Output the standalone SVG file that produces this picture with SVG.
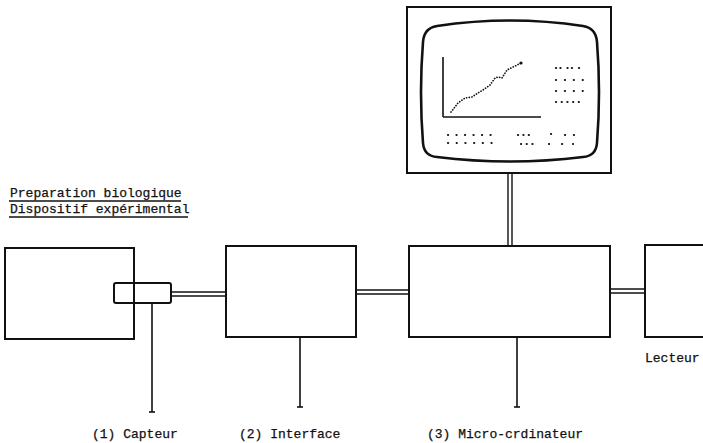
<svg xmlns="http://www.w3.org/2000/svg" width="703" height="443" viewBox="0 0 703 443">
<style>
.box{fill:none;stroke:#111;stroke-width:2}
.ln{fill:none;stroke:#111;stroke-width:1.6}
.dbl{fill:none;stroke:#111;stroke-width:1.4}
.t{font-family:"Liberation Mono","DejaVu Sans Mono",monospace;font-size:13px;fill:#111;stroke:#111;stroke-width:0.25}
.dots{fill:none;stroke:#111;stroke-width:2.2;stroke-dasharray:0.1 8.8;stroke-linecap:round}
</style>
<rect width="703" height="443" fill="#fff"/>
<g id="connectors">
  <line class="dbl" x1="171" y1="292" x2="226" y2="292"/>
  <line class="dbl" x1="171" y1="296" x2="226" y2="296"/>
  <line class="dbl" x1="356" y1="290" x2="409" y2="290"/>
  <line class="dbl" x1="356" y1="294" x2="409" y2="294"/>
  <line class="dbl" x1="610" y1="289" x2="645" y2="289"/>
  <line class="dbl" x1="610" y1="293" x2="645" y2="293"/>
  <line class="dbl" x1="508" y1="173" x2="508" y2="246"/>
  <line class="dbl" x1="512" y1="173" x2="512" y2="246"/>
  <line class="ln" x1="152" y1="303" x2="152" y2="412"/>
  <line class="ln" x1="149" y1="412" x2="155" y2="412"/>
  <line class="ln" x1="300" y1="337" x2="300" y2="407"/>
  <line class="ln" x1="297" y1="407" x2="303" y2="407"/>
  <line class="ln" x1="517" y1="337" x2="517" y2="407"/>
  <line class="ln" x1="514" y1="407" x2="520" y2="407"/>
</g>
<g id="preparation">
  <rect class="box" x="5" y="248" width="129" height="91"/>
  <text class="t" x="10" y="197">Preparation biologique</text>
  <line class="ln" x1="9" y1="201" x2="181" y2="201" stroke-width="1.2"/>
  <text class="t" x="10" y="213">Dispositif expérimental</text>
  <line class="ln" x1="9" y1="217" x2="188" y2="217" stroke-width="1.2"/>
</g>
<g id="capteur">
  <rect class="box" x="114" y="283" width="57" height="20" rx="2" fill="#fff"/>
  <text class="t" x="92" y="438">(1) Capteur</text>
</g>
<g id="interface">
  <rect class="box" x="226" y="246" width="130" height="91"/>
  <text class="t" x="239" y="438">(2) Interface</text>
</g>
<g id="micro">
  <rect class="box" x="409" y="246" width="201" height="91"/>
  <text class="t" x="427" y="438">(3) Micro-crdinateur</text>
</g>
<g id="lecteur">
  <path class="box" d="M705,245 H645 V337 H705"/>
  <text class="t" x="645" y="362">Lecteur</text>
</g>
<g id="moniteur">
  <rect class="box" x="407" y="7" width="204" height="166"/>
  <path fill="none" stroke="#111" stroke-width="2.6" d="M437,26 Q510,15 583,26 Q596,28 597,42 Q601,92 597,143 Q596,156 583,157 Q510,166 437,157 Q424,156 423,143 Q419,92 423,42 Q424,28 437,26 Z"/>
  <line class="ln" x1="443" y1="57" x2="443" y2="117"/>
  <line class="ln" x1="443" y1="117" x2="541" y2="117"/>
  <polyline fill="none" stroke="#111" stroke-width="1.7" stroke-dasharray="0.1 2.6" stroke-linecap="round" points="451,112 458,103 465,98 472,97 478,93 483,90 490,85 495,78 498,77 502,78 507,70 513,67 521,63"/>
  <circle fill="#111" cx="521" cy="63" r="1.6"/>
  <line class="dots" x1="556" y1="68" x2="583" y2="68" style="stroke-dasharray:0.1 4.3 0.1 7"/>
  <line class="dots" x1="556" y1="80" x2="583" y2="80"/>
  <line class="dots" x1="556" y1="91" x2="583" y2="91"/>
  <line class="dots" x1="556" y1="102" x2="579" y2="102" style="stroke-dasharray:0.1 5.6"/>
  <line class="dots" x1="448" y1="135" x2="491" y2="135" style="stroke-dasharray:0.1 8.4"/>
  <line class="dots" x1="448" y1="143" x2="492" y2="143" style="stroke-dasharray:0.1 8.6"/>
  <line class="dots" x1="518" y1="135" x2="534" y2="135" style="stroke-dasharray:0.1 5.3"/>
  <line class="dots" x1="551" y1="134" x2="551.1" y2="134"/>
  <line class="dots" x1="565" y1="135" x2="574" y2="135"/>
  <line class="dots" x1="521" y1="144" x2="538" y2="144" style="stroke-dasharray:0.1 5.6"/>
  <line class="dots" x1="549" y1="144" x2="549.1" y2="144"/>
  <line class="dots" x1="562" y1="144" x2="573" y2="144" style="stroke-dasharray:0.1 10.9"/>
</g>
</svg>
